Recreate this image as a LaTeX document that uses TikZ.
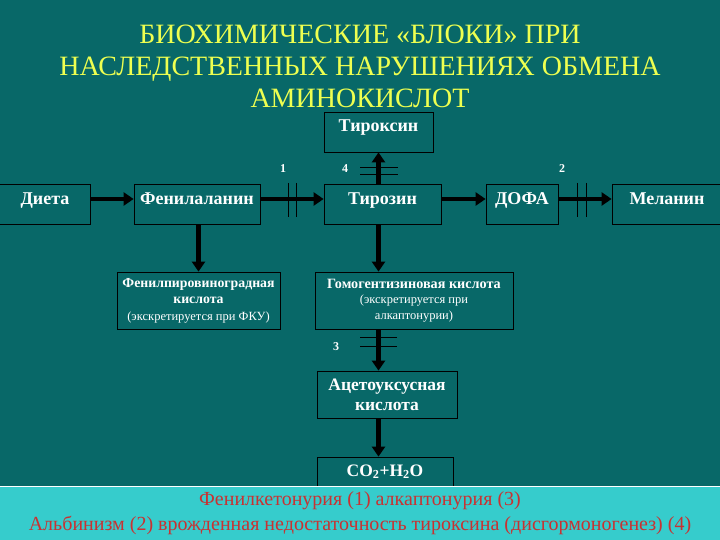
\documentclass[tikz,border=0pt]{standalone}
\usepackage{fontspec}
\setmainfont{Liberation Serif}
\usetikzlibrary{arrows.meta}
\definecolor{bgteal}{RGB}{8,104,104}
\definecolor{bandcyan}{RGB}{54,204,204}
\definecolor{titleyellow}{RGB}{238,255,80}
\definecolor{redtext}{RGB}{200,50,50}
\newcommand\smtxt{\fontsize{12.5}{15}\selectfont\mdseries}
\tikzset{
  box/.style={draw=black, line width=0.8pt, fill=bgteal, text=white, font=\bfseries\fontsize{18}{20}\selectfont, inner sep=0pt, align=center},
  rowbox/.style={box, minimum height=40pt, text height=8pt, text depth=6pt},
  arr/.style={line width=4.5pt, draw=black, -{Triangle[length=10pt,width=13pt]}},
  blockline/.style={draw=black, line width=0.8pt},
  num/.style={text=white, font=\bfseries\fontsize{12}{14}\selectfont}
}
\begin{document}
\begin{tikzpicture}[x=1pt,y=-1pt]
\useasboundingbox (0,0) rectangle (720,540);
\fill[bgteal] (0,0) rectangle (720,540);
% title
\node[text=titleyellow, font=\fontsize{28}{32}\selectfont, align=center] (title) at (360,66)
  {БИОХИМИЧЕСКИЕ «БЛОКИ» ПРИ\\НАСЛЕДСТВЕННЫХ НАРУШЕНИЯХ ОБМЕНА\\АМИНОКИСЛОТ};
% boxes
\node[box, minimum width=109pt, minimum height=40pt, text height=7pt, text depth=7pt] (tyrx) at (378.5,132) {Тироксин};
\node[rowbox, minimum width=91pt] (diet) at (45,204) {Диета};
\node[rowbox, minimum width=126pt] (phe) at (197,204) {Фенилаланин};
\node[rowbox, minimum width=117pt] (tyr) at (382.5,204) {Тирозин};
\node[rowbox, minimum width=72pt] (dopa) at (522,204) {ДОФА};
\node[rowbox, minimum width=110pt] (mel) at (667,204) {Меланин};
\node[box, minimum width=163pt, minimum height=57pt, font=\bfseries\fontsize{13.8}{16.5}\selectfont] (ppk) at (198.5,300.5)
  {Фенилпировиноградная\\кислота\\{\smtxt(экскретируется при ФКУ)}};
\node[box, minimum width=198pt, minimum height=57pt, font=\bfseries\fontsize{14.2}{15.5}\selectfont] (hga) at (414,300.5)
  {Гомогентизиновая кислота\\{\smtxt(экскретируется при}\\{\smtxt алкаптонурии)}};
\node[box, minimum width=140pt, minimum height=47pt, font=\bfseries\fontsize{17.5}{20}\selectfont] (aca) at (387,394.5)
  {Ацетоуксусная\\кислота};
\node[box, minimum width=136pt, minimum height=29pt, font=\bfseries\fontsize{17.5}{20}\selectfont] (co2) at (385,471.5)
  {CO\textsubscript{2}+H\textsubscript{2}O};
% arrows
\draw[arr] ([yshift=5pt]diet.east) -- ([yshift=5pt]phe.west);
\draw[arr] ([yshift=5pt]phe.east) -- ([yshift=5pt]tyr.west);
\draw[arr] ([yshift=5pt]tyr.east) -- ([yshift=5pt]dopa.west);
\draw[arr] ([yshift=5pt]dopa.east) -- ([yshift=5pt]mel.west);
\draw[arr] (tyr.north -| tyrx.south) -- (tyrx.south);
\draw[arr] (phe.south -| ppk.north) -- (ppk.north);
\draw[arr] (tyr.south -| tyrx.south) -- (hga.north -| tyrx.south);
\draw[arr] (hga.south -| tyrx.south) -- (aca.north -| tyrx.south);
\draw[arr] (aca.south -| tyrx.south) -- (co2.north -| tyrx.south);
% blocks
\draw[blockline] (288,183) -- (288,217) (296,183) -- (296,217);
\draw[blockline] (577,183) -- (577,217) (586,183) -- (586,217);
\draw[blockline] (360,167) -- (398,167) (360,174) -- (398,174);
\draw[blockline] (360,337) -- (397,337) (360,346) -- (397,346);
% numbers
\node[num] (n1) at (283,169) {1};
\node[num] (n4) at (345,169) {4};
\node[num] (n2) at (562,169) {2};
\node[num] (n3) at (336,347) {3};
% bottom band
\fill[bandcyan] (0,487) rectangle (720,540);
\draw[white, line width=1.5pt] (0,486.5) -- (720,486.5);
\node[text=redtext, font=\fontsize{20}{25}\selectfont, align=center] (foot) at (360,513)
  {Фенилкетонурия (1) алкаптонурия (3)\\Альбинизм (2) врожденная недостаточность тироксина (дисгормоногенез) (4)};
\end{tikzpicture}
\end{document}
